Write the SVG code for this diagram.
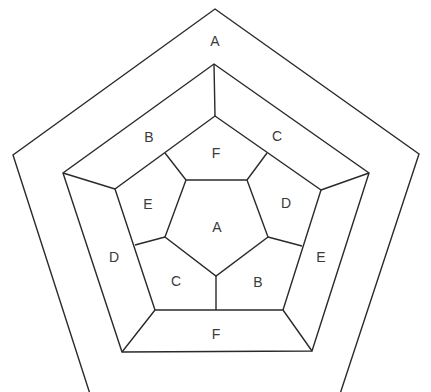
<svg xmlns="http://www.w3.org/2000/svg" width="431" height="392" viewBox="0 0 431 392">
<style>
.l{fill:none;stroke:#2a2a2a;stroke-width:1.4;stroke-linejoin:miter}
.t{font-family:"Liberation Sans",Arial,sans-serif;font-size:14px;fill:#3a3a3a;text-anchor:middle}
</style>
<rect width="431" height="392" fill="#ffffff"/>
<g id="outer">
<polygon class="l" points="215,9 419,154 340,394 90,394 13,155"/>
</g>
<g id="middle">
<polygon class="l" points="214,64 369,173 312,351 122,352 63,173"/>
</g>
<g id="second">
<polygon class="l" points="215,116 321,190 283,310 155,310 115,189"/>
</g>
<g id="inner">
<polygon class="l" points="186,180 247,180 268,237 216,276 165,237"/>
</g>
<g id="connectors">
<path class="l" d="M214,64 L215,116 M63,173 L115,189 M369,173 L321,190 M122,352 L155,310 M312,351 L283,310 M165,153 L186,180 M267,153 L247,180 M165,237 L135,245 M268,237 L302,246 M216,276 L216,310"/>
</g>
<g id="labels">
<text class="t" x="215" y="46">A</text>
<text class="t" x="149" y="142">B</text>
<text class="t" x="277" y="141">C</text>
<text class="t" x="216" y="158">F</text>
<text class="t" x="148" y="209">E</text>
<text class="t" x="286" y="208">D</text>
<text class="t" x="217" y="232">A</text>
<text class="t" x="114" y="262">D</text>
<text class="t" x="321" y="262">E</text>
<text class="t" x="176" y="286">C</text>
<text class="t" x="258" y="287">B</text>
<text class="t" x="216" y="339">F</text>
</g>
</svg>
